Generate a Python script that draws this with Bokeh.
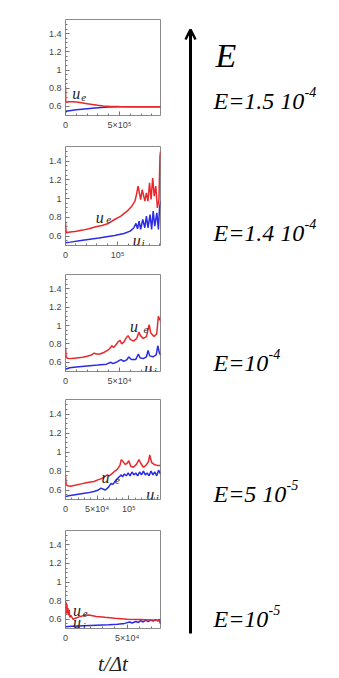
from bokeh.plotting import figure
from bokeh.models import Range1d, FixedTicker, Arrow, OpenHead, NumeralTickFormatter
from bokeh.layouts import column, row
from bokeh.embed import file_html
from bokeh.resources import INLINE
from bokeh.core.properties import value

RED = "#e8282d"
BLUE = "#2b2be6"
SERIF = "Liberation Serif"

# ---------------- data ----------------
# Panel 1 : E = 1.5e-4
p1_xmax = 880000
p1_xticks = [0, 500000]
p1_xlabels = ["0", "5×10⁵"]
p1_xminor = [100000, 200000, 300000, 400000, 600000, 700000, 800000]
p1_red_x = [0, 2000, 10000, 30000, 60000, 100000, 150000, 200000, 250000, 300000, 350000, 420000, 500000, 600000, 700000, 880000]
p1_red_y = [0.82, 0.655, 0.645, 0.65, 0.652, 0.648, 0.64, 0.63, 0.62, 0.612, 0.605, 0.6, 0.598, 0.597, 0.597, 0.596]
p1_blue_x = [0, 20000, 100000, 200000, 300000, 400000, 500000, 600000, 880000]
p1_blue_y = [0.536, 0.55, 0.562, 0.575, 0.586, 0.594, 0.597, 0.597, 0.596]

# Panel 2 : E = 1.4e-4
p2_xmax = 182000
p2_xticks = [0, 100000]
p2_xlabels = ["0", "10⁵"]
p2_xminor = [20000, 40000, 60000, 80000, 120000, 140000, 160000, 180000]
p2_red_x = [0, 1200, 9000, 21000, 33000, 45000, 58000, 70000, 82000, 94000, 106000, 118000, 127000, 133000, 136000, 139000, 144000, 147000, 152000, 155000, 158000, 161000, 164000, 167000, 170000, 173000, 176000, 179000, 181000, 182000]
p2_red_y = [0.75, 0.635, 0.643, 0.653, 0.664, 0.678, 0.70, 0.713, 0.735, 0.777, 0.813, 0.866, 0.919, 0.972, 1.043, 1.132, 0.99, 1.096, 0.972, 1.061, 0.972, 1.167, 0.99, 1.22, 1.026, 1.132, 0.90, 0.99, 1.45, 1.50]
p2_blue_x = [0, 9000, 33000, 64000, 94000, 112000, 124000, 131000, 135000, 138000, 141000, 144000, 148000, 152000, 155000, 158000, 162000, 165000, 168000, 171000, 175000, 178000, 180000, 182000]
p2_blue_y = [0.529, 0.536, 0.557, 0.579, 0.607, 0.628, 0.653, 0.689, 0.735, 0.678, 0.76, 0.671, 0.777, 0.689, 0.813, 0.689, 0.83, 0.671, 0.866, 0.706, 0.848, 0.671, 0.884, 0.972]

# Panel 3 : E = 1e-4
p3_xmax = 88000
p3_xticks = [0, 50000]
p3_xlabels = ["0", "5×10⁴"]
p3_xminor = [10000, 20000, 30000, 40000, 60000, 70000, 80000]
p3_red_x = [0, 600, 1500, 4000, 8000, 12000, 16000, 20000, 24000, 26500, 28500, 32000, 36000, 39000, 41000, 43000, 44500, 46000, 48500, 50500, 52000, 54000, 56500, 58000, 60000, 63000, 66000, 68000, 69500, 72000, 75000, 77500, 79000, 82000, 84500, 86000, 88000]
p3_red_y = [0.76, 0.66, 0.645, 0.64, 0.645, 0.65, 0.655, 0.665, 0.68, 0.70, 0.69, 0.69, 0.71, 0.73, 0.75, 0.78, 0.76, 0.78, 0.82, 0.84, 0.80, 0.82, 0.87, 0.89, 0.85, 0.83, 0.86, 0.93, 0.89, 0.86, 0.88, 1.01, 0.92, 0.88, 0.91, 1.10, 1.05]
p3_blue_x = [0, 4000, 10000, 20000, 30000, 38000, 42000, 44000, 47000, 50000, 51500, 54000, 57000, 58500, 61000, 65000, 67500, 69000, 72000, 75000, 76500, 78000, 81000, 84000, 85500, 87000, 88000]
p3_blue_y = [0.525, 0.54, 0.55, 0.56, 0.57, 0.58, 0.60, 0.585, 0.60, 0.62, 0.63, 0.61, 0.63, 0.66, 0.63, 0.63, 0.69, 0.65, 0.64, 0.66, 0.73, 0.67, 0.66, 0.68, 0.78, 0.70, 0.68]

# Panel 4 : E = 5e-5
p4_xmax = 150000
p4_xticks = [0, 50000, 100000]
p4_xlabels = ["0", "5×10⁴", "10⁵"]
p4_xminor = [10000, 20000, 30000, 40000, 60000, 70000, 80000, 90000, 110000, 120000, 130000, 140000]
p4_red_x = [0, 1000, 3000, 8000, 15000, 25000, 35000, 45000, 52000, 57000, 62000, 66000, 69000, 73000, 78000, 82000, 86000, 88000, 91000, 94000, 97000, 100000, 103000, 107000, 112000, 116000, 119000, 123000, 127000, 131000, 133000, 136000, 140000, 145000, 150000]
p4_red_y = [0.75, 0.66, 0.645, 0.64, 0.65, 0.665, 0.68, 0.69, 0.71, 0.72, 0.74, 0.76, 0.75, 0.77, 0.80, 0.82, 0.86, 0.92, 0.90, 0.87, 0.88, 0.91, 0.85, 0.84, 0.87, 0.92, 0.88, 0.84, 0.86, 0.90, 0.97, 0.89, 0.87, 0.86, 0.86]
p4_blue_x = [0, 5000, 15000, 25000, 35000, 45000, 52000, 56000, 59000, 63000, 68000, 72000, 75000, 79000, 82000, 85000, 88000, 90000, 93000, 96000, 99000, 102000, 105000, 108000, 111000, 114000, 117000, 120000, 123000, 126000, 129000, 132000, 135000, 138000, 141000, 144000, 147000, 150000]
p4_blue_y = [0.53, 0.54, 0.55, 0.56, 0.57, 0.585, 0.60, 0.62, 0.61, 0.60, 0.63, 0.67, 0.66, 0.70, 0.72, 0.74, 0.76, 0.74, 0.77, 0.75, 0.78, 0.75, 0.79, 0.76, 0.78, 0.75, 0.79, 0.76, 0.80, 0.76, 0.78, 0.75, 0.80, 0.76, 0.79, 0.75, 0.81, 0.77]

# Panel 5 : E = 1e-5
p5_xmax = 77000
p5_xticks = [0, 50000]
p5_xlabels = ["0", "5×10⁴"]
p5_xminor = [10000, 20000, 30000, 40000, 60000, 70000]
p5_red_x = [0, 300, 600, 900, 1200, 1600, 2000, 2500, 3000, 3500, 4500, 6000, 8000, 11000, 15000, 19000, 25000, 32000, 40000, 50000, 60000, 70000, 77000]
p5_red_y = [0.80, 0.66, 0.78, 0.68, 0.76, 0.66, 0.72, 0.64, 0.70, 0.62, 0.64, 0.60, 0.61, 0.625, 0.64, 0.645, 0.63, 0.62, 0.61, 0.60, 0.597, 0.592, 0.588]
p5_blue_x = [0, 5000, 15000, 25000, 35000, 42000, 48000, 52000, 54000, 57000, 59000, 61000, 63000, 65000, 67000, 69000, 71000, 73000, 75000, 76000, 77000]
p5_blue_y = [0.52, 0.525, 0.53, 0.535, 0.54, 0.545, 0.555, 0.57, 0.56, 0.575, 0.565, 0.585, 0.57, 0.59, 0.575, 0.59, 0.58, 0.595, 0.58, 0.60, 0.55]

y_range_lo, y_range_hi = 0.5, 1.555
y_ticks = [0.6, 0.8, 1.0, 1.2, 1.4]
y_minor = [0.55, 0.65, 0.7, 0.75, 0.85, 0.9, 0.95, 1.05, 1.1, 1.15, 1.25, 1.3, 1.35, 1.45, 1.5]

# labels u_e / u_i per panel : (x, y) of "u", (x, y) of subscript
p1_ue = (63500, 0.742, 145000, 0.70)
p2_ue = (58000, 0.795, 78000, 0.772)
p2_ui = (129000, 0.553, 145600, 0.522)
p3_ue = (59800, 0.99, 72200, 0.958)
p3_ui = (73000, 0.532, 81800, 0.51)
p4_ue = (57000, 0.73, 78000, 0.70)
p4_ui = (127500, 0.552, 142500, 0.52)
p5_ue = (6160, 0.694, 13900, 0.66)
p5_ui = (6160, 0.565, 13900, 0.532)

# right-hand annotations (page coordinates)
E_main = ["E=1.5 10", "E=1.4 10", "E=10", "E=5 10", "E=10"]
E_sup = ["-4", "-4", "-4", "-5", "-5"]
E_x = [213, 213, 213, 213, 213]
E_base = [100, 232, 362, 493, 618]
E_sup_x = [304, 304, 268, 286, 268]

COL_W = 183


def make_panel(height, bl, bt, bb, frame_w, xmax, xticks, xlabels, xminor,
               rx, ry, bx, by, labels, xlabel=None):
    p = figure(width=COL_W, height=height,
               x_range=Range1d(0, xmax), y_range=Range1d(y_range_lo, y_range_hi),
               output_backend="svg", toolbar_location=None,
               min_border_left=bl, min_border_right=COL_W - bl - frame_w,
               min_border_top=bt, min_border_bottom=bb)
    p.xgrid.visible = False
    p.ygrid.visible = False
    p.outline_line_color = "#8a8a8a"
    p.outline_line_width = 1
    p.background_fill_color = "white"
    p.border_fill_color = "white"

    p.xaxis.ticker = FixedTicker(ticks=xticks, minor_ticks=xminor)
    p.xaxis.major_label_overrides = {t: l for t, l in zip(xticks, xlabels)}
    p.yaxis.ticker = FixedTicker(ticks=y_ticks, minor_ticks=y_minor)
    p.yaxis.formatter = NumeralTickFormatter(format="0.[0]")
    for ax in (p.xaxis, p.yaxis):
        ax.axis_line_color = None
        ax.major_tick_in = 4
        ax.major_tick_out = 0
        ax.minor_tick_in = 2
        ax.minor_tick_out = 0
        ax.major_tick_line_color = "#777777"
        ax.minor_tick_line_color = "#777777"
        ax.major_label_text_font = "Liberation Sans"
        ax.major_label_text_font_size = "9px"
        ax.major_label_text_color = "#444444"
    p.xaxis.major_label_standoff = 4
    p.yaxis.major_label_standoff = 4

    if bx is not None:
        p.line(bx, by, line_color=BLUE, line_width=1.5)
    p.line(rx, ry, line_color=RED, line_width=1.5)

    for (ux, uy, sx, sy), sub in labels:
        p.text(x=[ux], y=[uy], text=["u"], text_font=value(SERIF), text_font_style="italic",
               text_font_size="16px", text_baseline="alphabetic", text_color="#222222")
        p.text(x=[sx], y=[sy], text=[sub], text_font=value(SERIF), text_font_style="italic",
               text_font_size="11px", text_baseline="alphabetic", text_color="#222222")

    if xlabel:
        p.xaxis.axis_label = xlabel
        p.xaxis.axis_label_text_font = SERIF
        p.xaxis.axis_label_text_font_style = "italic"
        p.xaxis.axis_label_text_font_size = "21px"
        p.xaxis.axis_label_text_color = "#222222"
        p.xaxis.axis_label_standoff = 6
    return p


p1 = make_panel(134, 63, 19, 19, 97, p1_xmax, p1_xticks, p1_xlabels, p1_xminor,
                p1_red_x, p1_red_y, p1_blue_x, p1_blue_y, [(p1_ue, "e")])
p2 = make_panel(128, 65, 12, 16, 100, p2_xmax, p2_xticks, p2_xlabels, p2_xminor,
                p2_red_x, p2_red_y, p2_blue_x, p2_blue_y, [(p2_ue, "e"), (p2_ui, "i")])
p3 = make_panel(126, 65, 12, 15, 100, p3_xmax, p3_xticks, p3_xlabels, p3_xminor,
                p3_red_x, p3_red_y, p3_blue_x, p3_blue_y, [(p3_ue, "e"), (p3_ui, "i")])
p4 = make_panel(128, 65, 11, 16, 100, p4_xmax, p4_xticks, p4_xlabels, p4_xminor,
                p4_red_x, p4_red_y, p4_blue_x, p4_blue_y, [(p4_ue, "e"), (p4_ui, "i")])
p5 = make_panel(162, 65, 14, 50, 100, p5_xmax, p5_xticks, p5_xlabels, p5_xminor,
                p5_red_x, p5_red_y, p5_blue_x, p5_blue_y, [(p5_ue, "e"), (p5_ui, "i")],
                xlabel="t/Δt")

# right side: arrow and E labels, in page coordinates
q = figure(width=339 - COL_W, height=678, x_range=Range1d(COL_W, 339), y_range=Range1d(678, 0),
           output_backend="svg", toolbar_location=None,
           x_axis_location=None, y_axis_location=None,
           min_border_left=0, min_border_right=0, min_border_top=0, min_border_bottom=0)
q.grid.visible = False
q.outline_line_color = None
q.add_layout(Arrow(end=OpenHead(size=10, line_width=2.5, line_color="black"),
                   x_start=190, y_start=633, x_end=190, y_end=29,
                   line_width=3, line_color="black"))
q.text(x=[215], y=[55], text=["E"], text_font=value(SERIF), text_font_style="italic",
       text_font_size="34px", text_baseline="alphabetic", text_color="black")
q.text(x=E_x, y=E_base, text=E_main, text_font=value(SERIF), text_font_style="italic",
       text_font_size="24px", text_baseline="alphabetic", text_color="black")
q.text(x=E_sup_x, y=[b - 9 for b in E_base], text=E_sup, text_font=value(SERIF),
       text_font_style="italic", text_font_size="14px", text_baseline="alphabetic",
       text_color="black")

layout = row(column(p1, p2, p3, p4, p5), q)
open("out.html", "w").write(file_html(layout, INLINE))
